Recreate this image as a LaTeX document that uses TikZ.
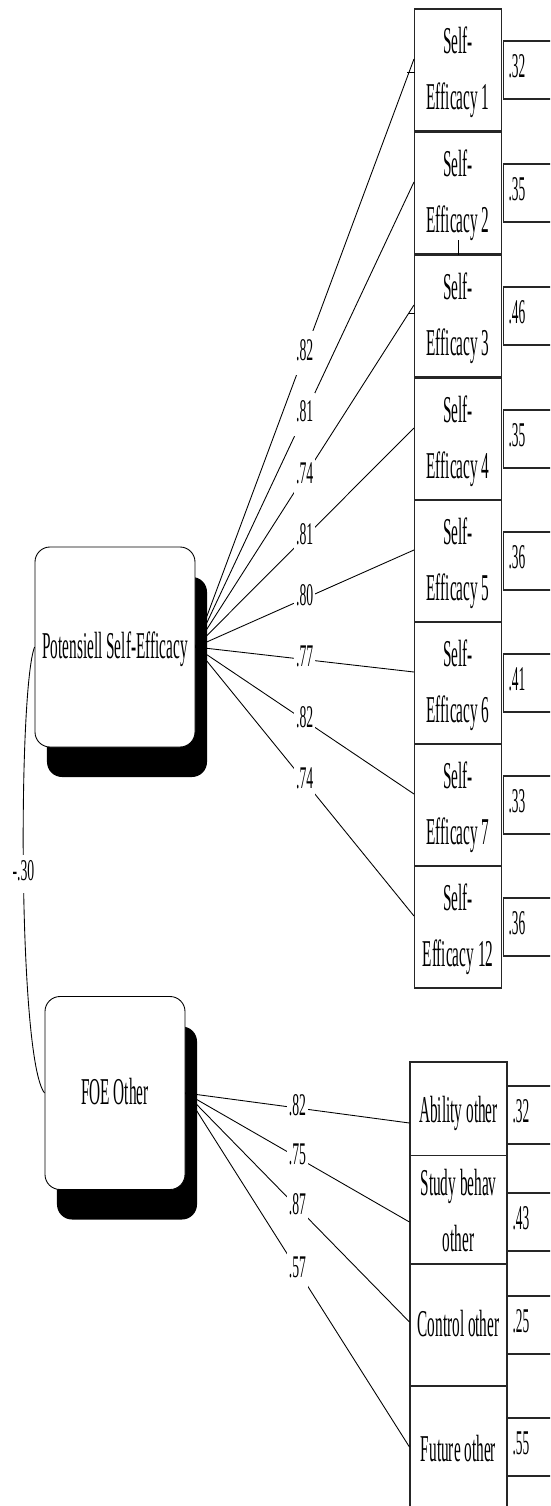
\documentclass[tikz,border=0pt]{standalone}
\usepackage{fontspec}
\setmainfont{Liberation Serif}
\usepackage{graphicx}
\usetikzlibrary{positioning,shadows}

% the original text is squeezed sideways, so stretch it upwards
\newcommand{\tallt}[2][2.48]{\scalebox{1}[#1]{\begin{tabular}{@{}c@{}}#2\end{tabular}}}

\begin{document}
\begin{tikzpicture}[x=0.2mm, y=-0.2mm,
  latent/.style={draw=black, fill=white, rounded corners=3mm, line width=0.5pt,
             inner sep=0pt, font=\fontsize{8.7}{12.9}\selectfont,
             general shadow={fill=black, shadow xshift=2.4mm, shadow yshift=-6mm,
                             rounded corners=4.5mm}},
  ind/.style={draw=black!85, fill=white, line width=0.6pt, inner sep=0pt,
             minimum width=17.4mm, font=\fontsize{8.7}{12.9}\selectfont},
  resid/.style={draw=black!85, line width=0.6pt, anchor=west, inner xsep=1mm,
             inner ysep=0pt, text width=11mm, align=left, minimum height=11.6mm,
             font=\fontsize{7.6}{8.6}\selectfont},
  coef/.style={fill=white, inner xsep=1pt, inner ysep=2pt,
             font=\fontsize{7.8}{9}\selectfont},
  path/.style={line width=0.5pt, black},
]
\useasboundingbox (0,0) rectangle (550,1506);
\clip (0,0) rectangle (550,1506);

% latent factors
\node[latent, minimum width=32mm, minimum height=40mm] (pse) at (115,647)
  {\tallt{Potensiell Self-Efficacy}};
\node[latent, minimum width=28mm, minimum height=38.6mm] (pfo) at (115,1093)
  {\tallt{FOE Other}};

% self-efficacy items
\foreach \n/\yc/\lam/\res in {1/70/.82/.32, 2/193/.81/.35, 3/316/.74/.46,
    4/439/.81/.35, 5/561/.80/.36, 6/683/.77/.41, 7/805/.82/.33, 12/927/.74/.36} {
  \node[ind, minimum height=24.4mm] (se\n) at (458,\yc) {\tallt{Self-\\Efficacy \n}};
  \node[resid] (rse\n) at (503,\yc) {\tallt[2.6]{\res}};
  \draw[path] (pse.east) -- ([yshift=2.2mm]se\n.west)
    node[coef, pos=.5] {\tallt[2.3]{\lam}};
}

% FOE items
\foreach \n/\txt/\yc/\h/\dy/\lam/\ry/\res in {
    1/{Ability other}/1111/98/-2.4/.82/1115/.32,
    2/{Study behav\\other}/1212/104/-2/.75/1222/.43,
    3/{Control other}/1325/122/0.6/.87/1325/.25,
    4/{Future other}/1450/128/0.6/.57/1447/.55} {
  \node[ind, minimum width=19.4mm, minimum height=\h*0.2mm] (fo\n) at (458.5,\yc)
    {\tallt{\txt}};
  \node[resid] (rfo\n) at (507,\ry) {\tallt[2.6]{\res}};
  \draw[path] (pfo.east) -- ([yshift=\dy mm]fo\n.west)
    node[coef, pos=.5] {\tallt[2.3]{\lam}};
}

% covariance
\draw[path] (pse.west) .. controls (18,690) and (18,1060) .. (pfo.west)
  node[coef, pos=.5, inner ysep=1pt] {\tallt[2.2]{-.30}};

% stray marks
\draw[path] (407,72) -- (415,72);
\draw[path] (408,313) -- (415,313);
\draw[path] (458,240) -- (458,255);
\end{tikzpicture}
\end{document}
